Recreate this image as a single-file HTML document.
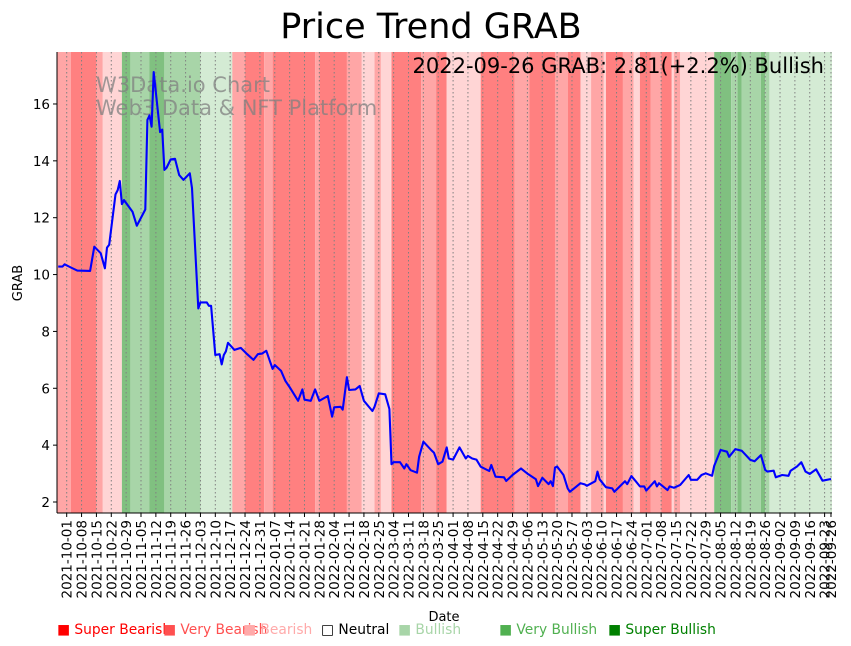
<!DOCTYPE html>
<html><head><meta charset="utf-8">
<style>
html,body{margin:0;padding:0;background:#fff;}
svg{display:block;font-family:"DejaVu Sans","Liberation Sans",sans-serif;}
</style></head>
<body>
<svg id="chart" width="851" height="646" viewBox="0 0 851 646" xmlns="http://www.w3.org/2000/svg">
  <g id="bands"></g>
  <g id="grid"></g>
  <g id="watermark">
    <text x="96" y="92" font-size="21" fill="#808080" fill-opacity="0.75">W3Data.io Chart</text>
    <text x="96" y="115" font-size="21" fill="#808080" fill-opacity="0.75">Web3 Data &amp; NFT Platform</text>
  </g>
  <path id="priceLine" fill="none" stroke="#0000ff" stroke-width="2.1" stroke-linejoin="round"/>
  <g id="yaxis"></g>
  <g id="xaxis"></g>
  <line x1="57" y1="52" x2="57" y2="513" stroke="#000" stroke-width="1"/>
  <line x1="57" y1="513" x2="832" y2="513" stroke="#000" stroke-width="1"/>
  <text x="431" y="38" font-size="35" text-anchor="middle" fill="#000">Price Trend GRAB</text>
  <text x="824" y="73" font-size="21" text-anchor="end" fill="#000">2022-09-26 GRAB: 2.81(+2.2%) Bullish</text>
  <text x="22" y="283" font-size="13" text-anchor="middle" transform="rotate(-90 22 283)" fill="#000">GRAB</text>
  <text x="444" y="621" font-size="13" text-anchor="middle" fill="#000">Date</text>
  <g id="legend" font-size="13.8">
    <text x="57" y="634" fill="#ff0000">■ Super Bearish</text>
    <text x="163" y="634" fill="#ff5050">■ Very Bearish</text>
    <text x="243" y="634" fill="#ffaaaa">■ Bearish</text>
    <text x="321" y="634" fill="#000000">□ Neutral</text>
    <text x="398" y="634" fill="#a8d5a8">■ Bullish</text>
    <text x="499" y="634" fill="#50b050">■ Very Bullish</text>
    <text x="608" y="634" fill="#008000">■ Super Bullish</text>
  </g>
</svg>
<script>
// days are offsets from 2021-10-01
const priceDays = [-4,-2,-1,2,5,11,13,16,18,19,20,23,24,25,26,27,31,33,37,38,39,40,41,44,45,46,47,49,51,53,55,58,59,62,63,66,67,68,70,72,73,74,75,76,79,82,85,88,90,92,94,97,98,101,103,105,109,111,112,115,117,119,123,125,126,129,130,132,133,136,138,140,144,145,147,150,152,153,154,157,159,160,162,165,166,168,172,173,175,177,179,180,182,185,188,189,191,193,195,199,200,202,206,207,210,214,216,217,221,222,224,227,228,229,230,231,234,236,237,242,244,245,249,250,251,254,257,258,263,264,266,268,270,272,273,277,278,279,283,284,286,289,293,294,297,299,301,304,305,308,311,312,315,318,322,324,327,329,330,333,334,337,340,341,344,346,348,350,353,356,360];
const priceValues = [10.28,10.28,10.36,10.25,10.14,10.13,10.98,10.75,10.22,10.95,11.05,12.82,12.97,13.29,12.48,12.62,12.21,11.72,12.29,15.44,15.6,15.2,17.12,15.01,15.1,13.68,13.75,14.05,14.07,13.5,13.33,13.56,13.04,8.81,9.02,9.02,8.9,8.9,7.17,7.2,6.84,7.17,7.3,7.6,7.35,7.42,7.2,7.0,7.2,7.22,7.32,6.68,6.82,6.61,6.26,6.04,5.56,5.96,5.6,5.56,5.96,5.56,5.73,5.0,5.33,5.35,5.25,6.39,5.94,5.96,6.08,5.56,5.2,5.35,5.82,5.79,5.27,3.33,3.4,3.4,3.18,3.33,3.12,3.03,3.59,4.12,3.8,3.73,3.33,3.42,3.92,3.53,3.49,3.92,3.53,3.62,3.53,3.49,3.24,3.09,3.3,2.89,2.87,2.74,2.95,3.18,3.06,3.0,2.8,2.56,2.85,2.63,2.73,2.56,3.21,3.25,2.95,2.48,2.36,2.66,2.62,2.57,2.73,3.07,2.8,2.52,2.48,2.36,2.73,2.63,2.91,2.73,2.55,2.55,2.4,2.73,2.55,2.66,2.42,2.55,2.5,2.6,2.95,2.78,2.78,2.95,3.01,2.92,3.27,3.83,3.77,3.59,3.86,3.8,3.48,3.43,3.65,3.13,3.07,3.1,2.87,2.95,2.92,3.1,3.25,3.4,3.07,2.99,3.15,2.75,2.81];
const bandStarts = [-5,2,14,17,26,30,39,46,63,78,84,93,97,117,119,132,139,145,148,153,167,174,179,195,211,218,230,236,242,247,253,254,262,267,270,275,280,285,286,289,305,313,316,318,327,329,331];
const bandLevels = ['B','VB','B','LB','VG','G','VG','G','LG','B','VB','B','VB','B','VB','B','LB','B','LB','VB','B','VB','LB','VB','B','VB','B','VB','LB','B','LB','VB','B','LB','VB','B','VB','LB','B','LB','VG','G','VG','G','VG','G','LG'];
const bandEndDay = 361;
const yTicks = [2,4,6,8,10,12,14,16];
const xTickLabels = ['2021-10-01','2021-10-08','2021-10-15','2021-10-22','2021-10-29','2021-11-05','2021-11-12','2021-11-19','2021-11-26','2021-12-03','2021-12-10','2021-12-17','2021-12-24','2021-12-31','2022-01-07','2022-01-14','2022-01-21','2022-01-28','2022-02-04','2022-02-11','2022-02-18','2022-02-25','2022-03-04','2022-03-11','2022-03-18','2022-03-25','2022-04-01','2022-04-08','2022-04-15','2022-04-22','2022-04-29','2022-05-06','2022-05-13','2022-05-20','2022-05-27','2022-06-03','2022-06-10','2022-06-17','2022-06-24','2022-07-01','2022-07-08','2022-07-15','2022-07-22','2022-07-29','2022-08-05','2022-08-12','2022-08-19','2022-08-26','2022-09-02','2022-09-09','2022-09-16','2022-09-23','2022-09-26'];

const NS = 'http://www.w3.org/2000/svg';
const PL = 57, PR = 832, PT = 52, PB = 513;
const colors = {VB:'#ff8080', B:'#ffa6a6', LB:'#ffd5d5', LG:'#d4ebd4', G:'#a8d5a8', VG:'#80c080'};
const base = Date.UTC(2021,9,1);
function dayOf(s){const p=s.split('-');return (Date.UTC(+p[0],+p[1]-1,+p[2])-base)/86400000;}
function xs(d){return 66.7 + d*2.123;}
function ys(v){return 502 - (v-2)*28.43;}
function clampX(x){return Math.max(PL,Math.min(PR,x));}

const bandsG = document.getElementById('bands');
bandStarts.forEach((s,i)=>{
  const e = i+1<bandStarts.length ? bandStarts[i+1] : bandEndDay;
  const x1 = clampX(xs(s)), x2 = clampX(xs(e));
  const r = document.createElementNS(NS,'rect');
  r.setAttribute('x',x1); r.setAttribute('y',PT);
  r.setAttribute('width',Math.max(0,x2-x1)); r.setAttribute('height',PB-PT);
  r.setAttribute('fill',colors[bandLevels[i]]);
  
  
  bandsG.appendChild(r);
});

const gridG = document.getElementById('grid');
const xaxisG = document.getElementById('xaxis');
xTickLabels.forEach(lbl=>{
  const x = xs(dayOf(lbl));
  const g = document.createElementNS(NS,'line');
  g.setAttribute('x1',x); g.setAttribute('x2',x); g.setAttribute('y1',PT); g.setAttribute('y2',PB);
  g.setAttribute('stroke','#808080'); g.setAttribute('stroke-width','1'); g.setAttribute('stroke-dasharray','1.5,2.5');
  
  
  gridG.appendChild(g);
  const t = document.createElementNS(NS,'line');
  t.setAttribute('x1',x); t.setAttribute('x2',x); t.setAttribute('y1',PB); t.setAttribute('y2',PB+4);
  t.setAttribute('stroke','#000');
  
  
  xaxisG.appendChild(t);
  const tx = document.createElementNS(NS,'text');
  tx.setAttribute('transform','translate('+(x+5)+','+(PB+7)+') rotate(-90)');
  tx.setAttribute('text-anchor','end'); tx.setAttribute('font-size','13.5');
  tx.textContent = lbl;
  
  
  xaxisG.appendChild(tx);
});

const yaxisG = document.getElementById('yaxis');
yTicks.forEach(v=>{
  const y = ys(v);
  const t = document.createElementNS(NS,'line');
  t.setAttribute('x1',PL-4); t.setAttribute('x2',PL); t.setAttribute('y1',y); t.setAttribute('y2',y);
  t.setAttribute('stroke','#000');
  
  
  yaxisG.appendChild(t);
  const tx = document.createElementNS(NS,'text');
  tx.setAttribute('x',PL-7); tx.setAttribute('y',y+5);
  tx.setAttribute('text-anchor','end'); tx.setAttribute('font-size','13.5');
  tx.textContent = v;
  
  
  yaxisG.appendChild(tx);
});

let d = '';
priceDays.forEach((dd,i)=>{ d += (i?'L':'M') + clampX(xs(dd)).toFixed(1) + ',' + ys(priceValues[i]).toFixed(1); });
document.getElementById('priceLine').setAttribute('d', d);
</script>
</body></html>
